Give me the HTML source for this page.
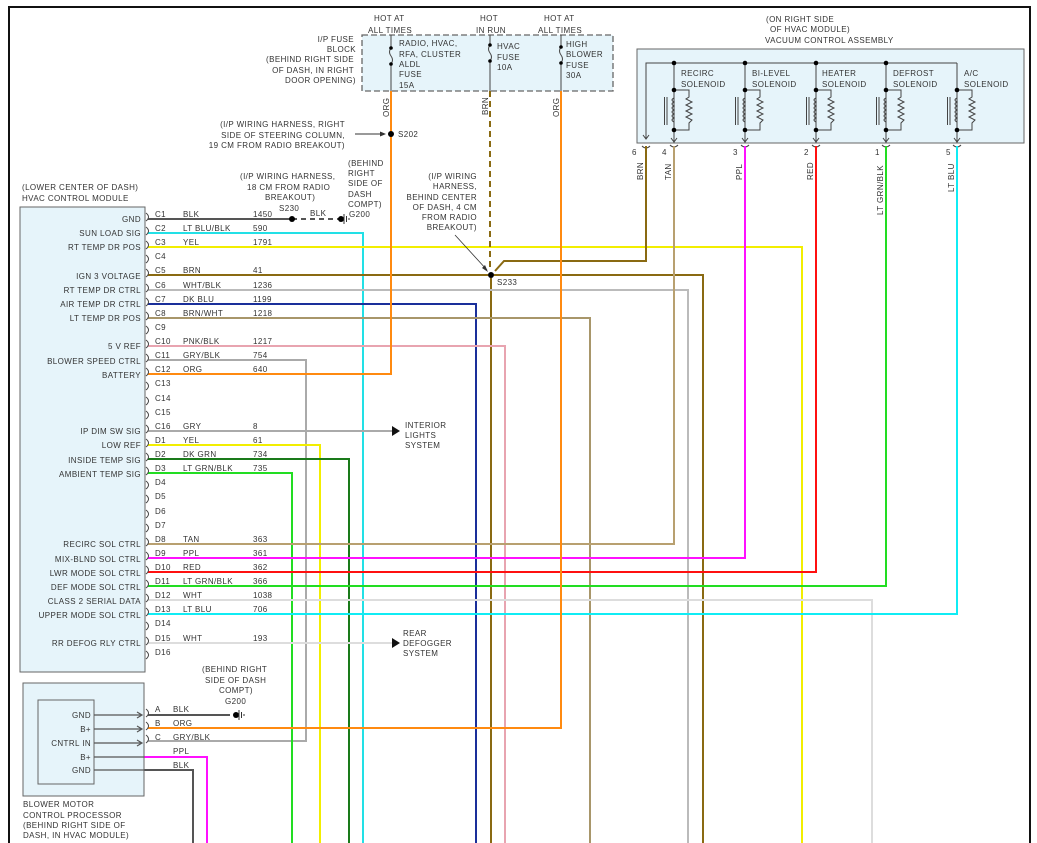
<!DOCTYPE html>
<html><head><meta charset="utf-8"><style>
html,body{margin:0;padding:0;background:#fff;}
svg{display:block;}
text{font-family:"Liberation Sans",sans-serif;font-size:8px;fill:#333;letter-spacing:0.4px;}
.r{text-anchor:end;}
.w{fill:none;stroke-width:2;}
</style></head><body>
<svg width="1037" height="843" viewBox="0 0 1037 843" xmlns="http://www.w3.org/2000/svg">
<defs>
<g id="sol">
 <line x1="0" y1="0" x2="0" y2="80" stroke="#444" stroke-width="1"/>
 <polyline points="0,27 15,27 15,34 12,36 18,39 12,42 18,45 12,48 18,51 12,54 18,57 15,60 15,67 0,67" fill="none" stroke="#444" stroke-width="1"/>
 <path d="M0,35 q-4,2 0,4 q-4,2 0,4 q-4,2 0,4 q-4,2 0,4 q-4,2 0,4 q-4,2 0,4" fill="none" stroke="#444" stroke-width="1"/>
 <line x1="-7" y1="34" x2="-7" y2="62" stroke="#444" stroke-width="1"/>
 <line x1="-9.5" y1="34" x2="-9.5" y2="62" stroke="#444" stroke-width="1"/>
 <circle cx="0" cy="0" r="2.3" fill="#000"/><circle cx="0" cy="27" r="2.3" fill="#000"/><circle cx="0" cy="67" r="2.3" fill="#000"/>
 <polyline points="-3,75 0,79 3,75" fill="none" stroke="#444" stroke-width="1"/>
 <path d="M-4,82 q4,4 8,0" fill="none" stroke="#444" stroke-width="1"/>
</g>
</defs>
<!-- frame -->
<path d="M9,843 V7 H1030 V843" fill="none" stroke="#111" stroke-width="2"/>

<!-- fuse block -->
<rect x="362" y="35" width="251" height="56" fill="#e6f4fa" stroke="#666" stroke-width="1.3" stroke-dasharray="6,3"/>
<text x="374" y="21">HOT AT</text><text x="368" y="33">ALL TIMES</text>
<text x="480" y="21">HOT</text><text x="476" y="33">IN RUN</text>
<text x="544" y="21">HOT AT</text><text x="538" y="33">ALL TIMES</text>
<text class="r" x="354" y="42">I/P FUSE</text><text class="r" x="356" y="52">BLOCK</text>
<text class="r" x="354" y="62">(BEHIND RIGHT SIDE</text><text class="r" x="354" y="73">OF DASH, IN RIGHT</text><text class="r" x="356" y="83">DOOR OPENING)</text>
<g stroke="#444" stroke-width="1" fill="none">
<path d="M391,35 V48 q-3,4 0,8 q3,4 0,8 V91"/>
<path d="M490,35 V45 q-3,4 0,8 q3,4 0,8 V91"/>
<path d="M561,35 V47 q-3,4 0,8 q3,4 0,8 V91"/>
</g>
<circle cx="391" cy="48" r="1.8" fill="#000"/><circle cx="391" cy="64" r="1.8" fill="#000"/>
<circle cx="490" cy="45" r="1.8" fill="#000"/><circle cx="490" cy="61" r="1.8" fill="#000"/>
<circle cx="561" cy="47" r="1.8" fill="#000"/><circle cx="561" cy="63" r="1.8" fill="#000"/>
<text x="399" y="46">RADIO, HVAC,</text><text x="399" y="57">RFA, CLUSTER</text><text x="399" y="67">ALDL</text><text x="399" y="77">FUSE</text><text x="399" y="88">15A</text>
<text x="497" y="49">HVAC</text><text x="497" y="60">FUSE</text><text x="497" y="70">10A</text>
<text x="566" y="47">HIGH</text><text x="566" y="57">BLOWER</text><text x="566" y="68">FUSE</text><text x="566" y="78">30A</text>
<text transform="translate(389,117) rotate(-90)">ORG</text>
<text transform="translate(488,115) rotate(-90)">BRN</text>
<text transform="translate(559,117) rotate(-90)">ORG</text>

<!-- S202 -->
<text class="r" x="345" y="127">(I/P WIRING HARNESS, RIGHT</text>
<text class="r" x="345" y="138">SIDE OF STEERING COLUMN,</text>
<text class="r" x="345" y="148">19 CM FROM RADIO BREAKOUT)</text>
<line x1="355" y1="134" x2="384" y2="134" stroke="#333" stroke-width="1"/>
<polygon points="386,134 380,131.5 380,136.5" fill="#333"/>
<text x="398" y="137">S202</text>

<!-- vacuum control -->
<text x="766" y="22">(ON RIGHT SIDE</text><text x="770" y="32">OF HVAC MODULE)</text><text x="765" y="43">VACUUM CONTROL ASSEMBLY</text>
<rect x="637" y="49" width="387" height="94" fill="#e6f4fa" stroke="#666" stroke-width="1"/>
<path d="M646,139 V63 H957" fill="none" stroke="#444" stroke-width="1"/>
<polyline points="643,135 646,139 649,135" fill="none" stroke="#444" stroke-width="1"/>
<path d="M642,146 q4,4 8,0" fill="none" stroke="#444" stroke-width="1"/>
<use href="#sol" x="674" y="63"/><use href="#sol" x="745" y="63"/><use href="#sol" x="816" y="63"/><use href="#sol" x="886" y="63"/>
<g transform="translate(957,63)">
 <line x1="0" y1="0" x2="0" y2="80" stroke="#444" stroke-width="1"/>
 <polyline points="0,27 15,27 15,34 12,36 18,39 12,42 18,45 12,48 18,51 12,54 18,57 15,60 15,67 0,67" fill="none" stroke="#444" stroke-width="1"/>
 <path d="M0,35 q-4,2 0,4 q-4,2 0,4 q-4,2 0,4 q-4,2 0,4 q-4,2 0,4 q-4,2 0,4" fill="none" stroke="#444" stroke-width="1"/>
 <line x1="-7" y1="34" x2="-7" y2="62" stroke="#444" stroke-width="1"/><line x1="-9.5" y1="34" x2="-9.5" y2="62" stroke="#444" stroke-width="1"/>
 <circle cx="0" cy="27" r="2.3" fill="#000"/><circle cx="0" cy="67" r="2.3" fill="#000"/>
 <polyline points="-3,75 0,79 3,75" fill="none" stroke="#444" stroke-width="1"/>
 <path d="M-4,82 q4,4 8,0" fill="none" stroke="#444" stroke-width="1"/>
</g>
<text x="681" y="76">RECIRC</text><text x="681" y="87">SOLENOID</text>
<text x="752" y="76">BI-LEVEL</text><text x="752" y="87">SOLENOID</text>
<text x="822" y="76">HEATER</text><text x="822" y="87">SOLENOID</text>
<text x="893" y="76">DEFROST</text><text x="893" y="87">SOLENOID</text>
<text x="964" y="76">A/C</text><text x="964" y="87">SOLENOID</text>
<text x="632" y="155">6</text><text x="662" y="155">4</text><text x="733" y="155">3</text><text x="804" y="155">2</text><text x="875" y="155">1</text><text x="946" y="155">5</text>
<text transform="translate(643,180) rotate(-90)">BRN</text>
<text transform="translate(671,180) rotate(-90)">TAN</text>
<text transform="translate(742,180) rotate(-90)">PPL</text>
<text transform="translate(813,180) rotate(-90)">RED</text>
<text transform="translate(883,215) rotate(-90)">LT GRN/BLK</text>
<text transform="translate(954,192) rotate(-90)">LT BLU</text>

<!-- HVAC module -->
<text x="22" y="190">(LOWER CENTER OF DASH)</text>
<text x="22" y="201">HVAC CONTROL MODULE</text>
<rect x="20" y="207" width="125" height="465" fill="#e6f4fa" stroke="#666" stroke-width="1"/>

<!-- wires -->
<g class="w">
<path d="M148,219 H292" stroke="#555"/>
<path d="M292,219 H341" stroke="#555" stroke-dasharray="5,4"/>
<path d="M148,233 H363 V843" stroke="#22e0e6"/>
<path d="M148,247 H802 V843" stroke="#f2ee00"/>
<path d="M148,275 H703 V843" stroke="#8a6a12"/>
<path d="M491,275 V843" stroke="#8a6a12"/>
<path d="M490,91 V270" stroke="#8a6a12" stroke-dasharray="6,4"/>
<path d="M495,271 L504,261 H646 V146" stroke="#8a6a12"/>
<path d="M148,290 H688 V843" stroke="#bbb"/>
<path d="M148,304 H476 V843" stroke="#1a2f9a"/>
<path d="M148,318 H590 V843" stroke="#a8966a"/>
<path d="M148,346 H505 V843" stroke="#e8a4b0"/>
<path d="M148,360 H306 V741 H148" stroke="#aaa"/>
<path d="M148,374 H391 V91" stroke="#ff8a10"/>
<path d="M148,431 H392" stroke="#aaa"/>
<path d="M148,445 H320 V843" stroke="#f2ee00"/>
<path d="M148,459 H349 V843" stroke="#1a7a1a"/>
<path d="M148,473 H292 V843" stroke="#22dd22"/>
<path d="M148,544 H674 V146" stroke="#b8a070"/>
<path d="M148,558 H745 V146" stroke="#ff10ff"/>
<path d="M148,572 H816 V146" stroke="#ff1010"/>
<path d="M148,586 H886 V146" stroke="#22dd22"/>
<path d="M148,600 H872 V843" stroke="#ddd"/>
<path d="M148,614 H957 V146" stroke="#10ecf4"/>
<path d="M148,643 H392" stroke="#ddd"/>
<path d="M148,728 H561 V91" stroke="#ff8a10"/>
<path d="M148,715 H230" stroke="#555"/>
<path d="M144,757 H207 V843" stroke="#ff10ff"/>
<path d="M144,770 H193 V843" stroke="#555"/>
</g>
<circle cx="292" cy="219" r="3" fill="#000"/>
<circle cx="341" cy="219" r="3" fill="#000"/>
<path d="M344,214 V224 M346.5,216 V222 M349,218 V220" stroke="#333" stroke-width="1"/>
<circle cx="391" cy="134" r="3" fill="#000"/>
<circle cx="491" cy="275" r="3" fill="#fff"/><circle cx="491" cy="275" r="3" fill="#000"/>
<line x1="455" y1="235" x2="487" y2="270" stroke="#333" stroke-width="0.8"/>
<polygon points="488,272 482,268 485,265" fill="#333"/>
<text x="497" y="285">S233</text>
<polygon points="400,431 392,426 392,436" fill="#111"/>
<polygon points="400,643 392,638 392,648" fill="#111"/>
<text x="405" y="428">INTERIOR</text><text x="405" y="438">LIGHTS</text><text x="405" y="448">SYSTEM</text>
<text x="403" y="636">REAR</text><text x="403" y="646">DEFOGGER</text><text x="403" y="656">SYSTEM</text>

<text x="240" y="179">(I/P WIRING HARNESS,</text><text x="247" y="190">18 CM FROM RADIO</text><text x="265" y="200">BREAKOUT)</text><text x="279" y="211">S230</text>
<text x="348" y="166">(BEHIND</text><text x="348" y="176">RIGHT</text><text x="348" y="186">SIDE OF</text><text x="348" y="197">DASH</text><text x="348" y="207">COMPT)</text><text x="349" y="217">G200</text>
<text x="310" y="216">BLK</text>
<text class="r" x="477" y="179">(I/P WIRING</text><text class="r" x="477" y="189">HARNESS,</text><text class="r" x="477" y="200">BEHIND CENTER</text><text class="r" x="477" y="210">OF DASH, 4 CM</text><text class="r" x="477" y="220">FROM RADIO</text><text class="r" x="477" y="230">BREAKOUT)</text>

<!-- pin connector marks & labels -->
<g fill="none" stroke="#444" stroke-width="1">
<path d="M146,213 q5,4 0,8 M146,227 q5,4 0,8 M146,241 q5,4 0,8 M146,255 q5,4 0,8 M146,269 q5,4 0,8 M146,284 q5,4 0,8 M146,298 q5,4 0,8 M146,312 q5,4 0,8 M146,326 q5,4 0,8 M146,340 q5,4 0,8 M146,354 q5,4 0,8 M146,368 q5,4 0,8 M146,382 q5,4 0,8 M146,397 q5,4 0,8 M146,411 q5,4 0,8 M146,425 q5,4 0,8 M146,439 q5,4 0,8 M146,453 q5,4 0,8 M146,467 q5,4 0,8 M146,481 q5,4 0,8 M146,495 q5,4 0,8 M146,510 q5,4 0,8 M146,524 q5,4 0,8 M146,538 q5,4 0,8 M146,552 q5,4 0,8 M146,566 q5,4 0,8 M146,580 q5,4 0,8 M146,594 q5,4 0,8 M146,608 q5,4 0,8 M146,622 q5,4 0,8 M146,637 q5,4 0,8 M146,651 q5,4 0,8"/>
<path d="M146,709 q5,4 0,8 M146,722 q5,4 0,8 M146,735 q5,4 0,8"/>
</g>
<g>
<text x="155" y="217">C1</text><text x="183" y="217">BLK</text><text x="253" y="217">1450</text>
<text x="155" y="231">C2</text><text x="183" y="231">LT BLU/BLK</text><text x="253" y="231">590</text>
<text x="155" y="245">C3</text><text x="183" y="245">YEL</text><text x="253" y="245">1791</text>
<text x="155" y="259">C4</text>
<text x="155" y="273">C5</text><text x="183" y="273">BRN</text><text x="253" y="273">41</text>
<text x="155" y="288">C6</text><text x="183" y="288">WHT/BLK</text><text x="253" y="288">1236</text>
<text x="155" y="302">C7</text><text x="183" y="302">DK BLU</text><text x="253" y="302">1199</text>
<text x="155" y="316">C8</text><text x="183" y="316">BRN/WHT</text><text x="253" y="316">1218</text>
<text x="155" y="330">C9</text>
<text x="155" y="344">C10</text><text x="183" y="344">PNK/BLK</text><text x="253" y="344">1217</text>
<text x="155" y="358">C11</text><text x="183" y="358">GRY/BLK</text><text x="253" y="358">754</text>
<text x="155" y="372">C12</text><text x="183" y="372">ORG</text><text x="253" y="372">640</text>
<text x="155" y="386">C13</text><text x="155" y="401">C14</text><text x="155" y="415">C15</text>
<text x="155" y="429">C16</text><text x="183" y="429">GRY</text><text x="253" y="429">8</text>
<text x="155" y="443">D1</text><text x="183" y="443">YEL</text><text x="253" y="443">61</text>
<text x="155" y="457">D2</text><text x="183" y="457">DK GRN</text><text x="253" y="457">734</text>
<text x="155" y="471">D3</text><text x="183" y="471">LT GRN/BLK</text><text x="253" y="471">735</text>
<text x="155" y="485">D4</text><text x="155" y="499">D5</text><text x="155" y="514">D6</text><text x="155" y="528">D7</text>
<text x="155" y="542">D8</text><text x="183" y="542">TAN</text><text x="253" y="542">363</text>
<text x="155" y="556">D9</text><text x="183" y="556">PPL</text><text x="253" y="556">361</text>
<text x="155" y="570">D10</text><text x="183" y="570">RED</text><text x="253" y="570">362</text>
<text x="155" y="584">D11</text><text x="183" y="584">LT GRN/BLK</text><text x="253" y="584">366</text>
<text x="155" y="598">D12</text><text x="183" y="598">WHT</text><text x="253" y="598">1038</text>
<text x="155" y="612">D13</text><text x="183" y="612">LT BLU</text><text x="253" y="612">706</text>
<text x="155" y="626">D14</text>
<text x="155" y="641">D15</text><text x="183" y="641">WHT</text><text x="253" y="641">193</text>
<text x="155" y="655">D16</text>
</g>
<g class="r">
<text class="r" x="141" y="222">GND</text>
<text class="r" x="141" y="236">SUN LOAD SIG</text>
<text class="r" x="141" y="250">RT TEMP DR POS</text>
<text class="r" x="141" y="279">IGN 3 VOLTAGE</text>
<text class="r" x="141" y="293">RT TEMP DR CTRL</text>
<text class="r" x="141" y="307">AIR TEMP DR CTRL</text>
<text class="r" x="141" y="321">LT TEMP DR POS</text>
<text class="r" x="141" y="349">5 V REF</text>
<text class="r" x="141" y="364">BLOWER SPEED CTRL</text>
<text class="r" x="141" y="378">BATTERY</text>
<text class="r" x="141" y="434">IP DIM SW SIG</text>
<text class="r" x="141" y="448">LOW REF</text>
<text class="r" x="141" y="463">INSIDE TEMP SIG</text>
<text class="r" x="141" y="477">AMBIENT TEMP SIG</text>
<text class="r" x="141" y="547">RECIRC SOL CTRL</text>
<text class="r" x="141" y="562">MIX-BLND SOL CTRL</text>
<text class="r" x="141" y="576">LWR MODE SOL CTRL</text>
<text class="r" x="141" y="590">DEF MODE SOL CTRL</text>
<text class="r" x="141" y="604">CLASS 2 SERIAL DATA</text>
<text class="r" x="141" y="618">UPPER MODE SOL CTRL</text>
<text class="r" x="141" y="646">RR DEFOG RLY CTRL</text>
</g>

<!-- blower -->
<text x="202" y="672">(BEHIND RIGHT</text><text x="205" y="683">SIDE OF DASH</text><text x="219" y="693">COMPT)</text><text x="225" y="704">G200</text>
<circle cx="236" cy="715" r="3" fill="#000"/>
<path d="M239,710 V720 M241.5,712 V718 M244,714 V716" stroke="#333" stroke-width="1"/>
<rect x="23" y="683" width="121" height="113" fill="#e6f4fa" stroke="#666" stroke-width="1"/>
<rect x="38" y="700" width="56" height="84" fill="#e6f4fa" stroke="#666" stroke-width="1"/>
<g stroke="#555" stroke-width="1.2" fill="none">
<path d="M94,715 H142 M137,712 L142,715 L137,718"/>
<path d="M94,729 H142 M137,726 L142,729 L137,732"/>
<path d="M94,743 H142 M137,740 L142,743 L137,746"/>
<path d="M94,757 H144 M94,770 H144"/>
</g>
<text class="r" x="91" y="718">GND</text><text class="r" x="91" y="732">B+</text><text class="r" x="91" y="746">CNTRL IN</text><text class="r" x="91" y="760">B+</text><text class="r" x="91" y="773">GND</text>
<text x="155" y="712">A</text><text x="173" y="712">BLK</text>
<text x="155" y="726">B</text><text x="173" y="726">ORG</text>
<text x="155" y="740">C</text><text x="173" y="740">GRY/BLK</text>
<text x="173" y="754">PPL</text><text x="173" y="768">BLK</text>
<text x="23" y="807">BLOWER MOTOR</text><text x="23" y="818">CONTROL PROCESSOR</text><text x="23" y="828">(BEHIND RIGHT SIDE OF</text><text x="23" y="838">DASH, IN HVAC MODULE)</text>
</svg>
</body></html>
